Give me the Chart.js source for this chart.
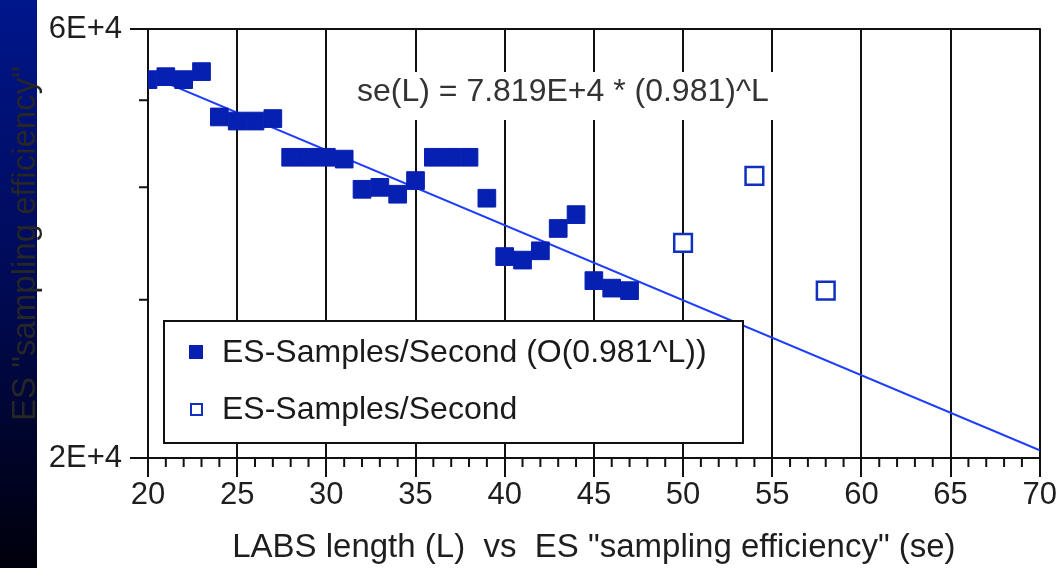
<!DOCTYPE html>
<html lang="en">
<head>
<meta charset="UTF-8">
<title>LABS length vs ES sampling efficiency</title>
<script src="https://cdn.jsdelivr.net/npm/chart.js"></script>
<style>
    html, body { margin: 0; padding: 0; background: #fff; overflow: hidden; }
    #wrap { width: 1057px; height: 568px; position: relative; }
</style>
</head>
<body>
<div id="wrap"><canvas id="chart" width="1057" height="568"></canvas></div>
<script>
// values
const fittedLengths = [20, 21, 22, 23, 24, 25, 26, 27, 28, 29, 30, 31, 32, 33,
                       34, 35, 36, 37, 38, 39, 40, 41, 42, 43, 44, 45, 46, 47];
const fittedRates = [52700, 53100, 52700, 53800, 47900, 47400, 47400, 47700,
                     43200, 43200, 43200, 43000, 39800, 40000, 39300, 40700,
                     43200, 43200, 43200, 38900, 33500, 33200, 34000, 36000,
                     37300, 31500, 30900, 30700];
const otherLengths = [50, 54, 58];
const otherRates = [34700, 41200, 30700];
const fitLengths = [20, 70];
const fitRates = [53300, 20400];
const yTickValues = [20000, 30000, 40000, 50000, 60000];
const yTickLabels = {20000: '2E+4', 60000: '6E+4'};

const seriesNames = ['ES-Samples/Second (O(0.981^L))', 'ES-Samples/Second'];
const fitLabel = 'se(L) = 7.819E+4 * (0.981)^L';
const xTitle = 'LABS length (L)  vs  ES "sampling efficiency" (se)';
const yTitle = 'ES "sampling efficiency"';

const FONT = '"Liberation Sans", Arial, Helvetica, sans-serif';
const markFill = '#0620b2';
const lineBlue = '#1f3dff';

const toPoints = (xs, ys) => xs.map((x, i) => ({x: x, y: ys[i]}));

// dark strip down the left edge, top border, axis ticks
const frame = {
    id: 'frame',
    beforeDraw(chart) {
        const ctx = chart.ctx;
        const g = ctx.createLinearGradient(0, 0, 0, chart.height);
        g.addColorStop(0, '#00168c');
        g.addColorStop(0.5, '#000a55');
        g.addColorStop(1, '#00000a');
        ctx.save();
        ctx.fillStyle = g;
        ctx.fillRect(0, 0, 37, chart.height);
        ctx.restore();
    },
    beforeDatasetsDraw(chart) {
        const {ctx, chartArea, scales} = chart;
        ctx.save();
        ctx.strokeStyle = '#111';
        ctx.lineWidth = 2;
        ctx.beginPath();
        ctx.moveTo(130, chartArea.top);
        ctx.lineTo(chartArea.right + 1, chartArea.top);
        yTickValues.forEach(v => {
            const y = scales.y.getPixelForValue(v);
            const len = yTickLabels[v] ? 18 : 9;
            ctx.moveTo(chartArea.left - len, y);
            ctx.lineTo(chartArea.left, y);
        });
        for (let l = 21; l < 70; l++) {
            if (l % 5 === 0) continue;
            const x = scales.x.getPixelForValue(l);
            ctx.moveTo(x, chartArea.bottom);
            ctx.lineTo(x, chartArea.bottom + 9);
        }
        ctx.stroke();

        // equation label sits on a white patch over the grid
        ctx.fillStyle = '#fff';
        ctx.fillRect(348, 72, 432, 48);
        ctx.fillStyle = '#333';
        ctx.font = '32px ' + FONT;
        ctx.textBaseline = 'middle';
        ctx.fillText(fitLabel, 357, 92);
        ctx.restore();
    },
    afterDatasetsDraw(chart) {
        const ctx = chart.ctx;
        ctx.save();
        ctx.fillStyle = '#fff';
        ctx.fillRect(164, 321, 579, 122);
        ctx.strokeStyle = '#111';
        ctx.lineWidth = 2;
        ctx.strokeRect(164, 321, 579, 122);

        ctx.fillStyle = markFill;
        ctx.fillRect(189, 345, 14, 14);
        ctx.fillStyle = '#fff';
        ctx.strokeStyle = '#1030c0';
        ctx.lineWidth = 2;
        ctx.fillRect(191, 404, 11, 11);
        ctx.strokeRect(191, 404, 11, 11);

        ctx.fillStyle = '#1a1a1a';
        ctx.font = '32px ' + FONT;
        ctx.textBaseline = 'middle';
        ctx.fillText(seriesNames[0], 222, 353);
        ctx.fillText(seriesNames[1], 222, 410);
        ctx.restore();
    }
};

new Chart(document.getElementById('chart'), {
    type: 'scatter',
    data: {
        datasets: [
            {
                label: seriesNames[0],
                data: toPoints(fittedLengths, fittedRates),
                pointStyle: 'rect',
                pointRadius: 12.5,
                backgroundColor: markFill,
                borderColor: markFill,
                borderWidth: 1,
                order: 1
            },
            {
                label: seriesNames[1],
                data: toPoints(otherLengths, otherRates),
                pointStyle: 'rect',
                pointRadius: 12.5,
                backgroundColor: '#fff',
                borderColor: '#1030c0',
                borderWidth: 2.5,
                order: 2
            },
            {
                label: 'fit',
                type: 'line',
                data: toPoints(fitLengths, fitRates),
                borderColor: lineBlue,
                borderWidth: 2,
                pointRadius: 0,
                fill: false,
                order: 3
            }
        ]
    },
    options: {
        responsive: false,
        animation: false,
        devicePixelRatio: 1,
        layout: {padding: {top: 29, right: 0, left: 0, bottom: 0}},
        plugins: {
            legend: {display: false},
            tooltip: {enabled: false}
        },
        scales: {
            x: {
                type: 'linear',
                min: 20,
                max: 70,
                afterFit: s => { s.height = 110; },
                ticks: {
                    stepSize: 5,
                    maxRotation: 0,
                    autoSkip: false,
                    padding: 0,
                    color: '#1e1e1e',
                    font: {family: FONT, size: 31}
                },
                grid: {
                    color: '#111',
                    lineWidth: 2,
                    tickLength: 19
                },
                border: {display: true, color: '#111', width: 2},
                title: {
                    display: true,
                    text: xTitle,
                    color: '#1e1e1e',
                    font: {family: FONT, size: 33},
                    padding: {top: 0, bottom: 0}
                }
            },
            y: {
                type: 'logarithmic',
                min: 20000,
                max: 60000,
                afterFit: s => { s.width = 148; },
                afterBuildTicks: s => { s.ticks = yTickValues.map(v => ({value: v})); },
                ticks: {
                    padding: 0,
                    color: '#1e1e1e',
                    font: {family: FONT, size: 31},
                    callback: v => yTickLabels[v] || ''
                },
                grid: {display: false, drawTicks: true, tickLength: 26},
                border: {display: true, color: '#111', width: 2},
                title: {
                    display: true,
                    text: yTitle,
                    color: '#262626',
                    font: {family: FONT, size: 33},
                    padding: {top: 6, bottom: 0}
                }
            }
        }
    },
    plugins: [frame]
});
</script>
</body>
</html>
